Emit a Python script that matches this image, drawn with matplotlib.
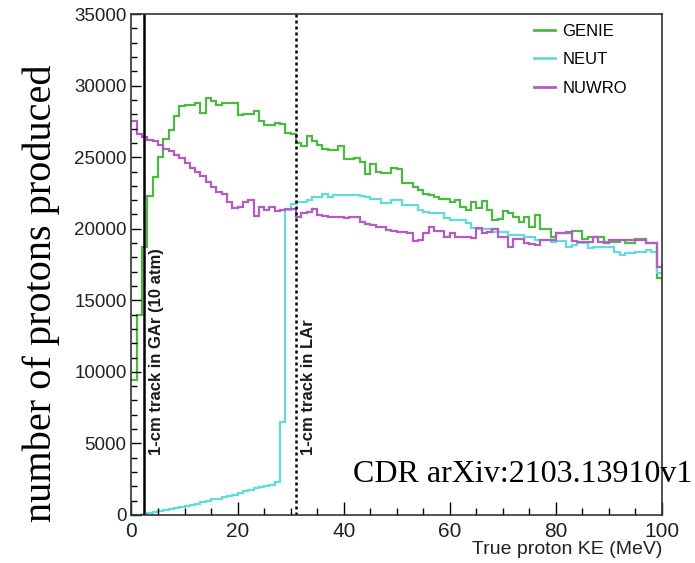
import matplotlib
matplotlib.use("Agg")
import matplotlib.pyplot as plt
from matplotlib.ticker import MultipleLocator
from matplotlib.lines import Line2D
import numpy as np

# bin edges (MeV) and per-bin counts
edges = np.arange(0, 101, 1)

genie = [9400, 14000, 18700, 22300, 23600, 25000, 26300, 26900, 27900, 28600,
         28650, 28650, 28800, 28100, 29150, 28900, 28650, 28800, 28800, 28800,
         27950, 28050, 28050, 28250, 27500, 27250, 27250, 27400, 27350, 26700,
         26650, 26000, 25750, 26450, 26100, 25850, 25550, 25500, 25500, 25750,
         24900, 24850, 24950, 24650, 23800, 24550, 24000, 23900, 23900, 24250,
         24200, 23200, 23200, 22950, 22700, 22400, 22350, 22250, 22100, 22050,
         21900, 22000, 21550, 21300, 21900, 21450, 21950, 21300, 20600, 20650,
         21250, 21100, 20850, 20500, 20800, 20150, 20950, 20000, 19950, 19450,
         19700, 19700, 19700, 19850, 19850, 19250, 19450, 19450, 19450, 19100,
         19100, 19100, 19200, 19000, 19000, 19250, 19250, 19000, 19000, 16550]

neut = [0, 30, 80, 130, 180, 250, 320, 400, 480, 560,
        640, 720, 800, 880, 960, 1100, 1150, 1250, 1350, 1400,
        1550, 1700, 1750, 1900, 1950, 2050, 2100, 2300, 6500, 21300,
        21700, 21900, 21900, 22000, 22250, 22250, 22400, 22200, 22350, 22350,
        22350, 22350, 22350, 22300, 22200, 22050, 22050, 21800, 21800, 22000,
        22000, 21650, 21650, 21650, 21300, 21200, 21100, 21100, 21100, 20750,
        20600, 20600, 20600, 20400, 20050, 19950, 19950, 19950, 19800, 19800,
        19800, 19550, 19550, 19550, 19450, 19400, 19200, 19200, 19200, 19050,
        19150, 19150, 18750, 18850, 19000, 19000, 18650, 18700, 18700, 18750,
        18750, 18400, 18200, 18300, 18300, 18350, 18350, 18500, 18400, 16900]

nuwro = [27550, 26650, 26400, 26200, 26100, 25850, 25600, 25400, 25150, 24950,
         24600, 24250, 24000, 23700, 23300, 22950, 22600, 22450, 21900, 21450,
         21500, 21900, 22000, 20900, 21550, 21300, 21500, 21250, 21300, 21350,
         21350, 20800, 21100, 21200, 21350, 20950, 20900, 20850, 20850, 20800,
         20750, 20850, 20850, 20500, 20300, 20250, 20150, 20100, 19900, 19850,
         19800, 19750, 19700, 19150, 19200, 19700, 20100, 19850, 19850, 19450,
         19700, 19450, 19450, 19450, 19350, 20050, 19700, 19750, 19950, 19450,
         19450, 18750, 19300, 19300, 19000, 18950, 18850, 19200, 19200, 19200,
         19700, 19700, 19800, 19150, 19100, 19100, 19050, 19450, 19050, 19000,
         19200, 19200, 19200, 19200, 19200, 19200, 19200, 19000, 19000, 17350]

labels = ["GENIE", "NEUT", "NUWRO"]
colors = ["#4fb845", "#62dbdd", "#b35cc2"]

gar_cut = 2.4    # 1-cm track in GAr (10 atm)
lar_cut = 31.0   # 1-cm track in LAr

sans = ["Liberation Sans", "DejaVu Sans"]
serif = ["Liberation Serif", "DejaVu Serif"]

fig = plt.figure(figsize=(6.95, 5.63), dpi=100)
ax = fig.add_axes([0.1892, 0.0853, 0.7633, 0.8897])

for vals, lab, col in zip([genie, neut, nuwro], labels, colors):
    ax.stairs(vals, edges, baseline=None, color=col, lw=1.6, label=lab)

ax.axvline(gar_cut, color="black", lw=1.8)
ax.axvline(lar_cut, color="black", lw=1.8, linestyle=(0, (1.2, 1.2)))

ax.text(gar_cut + 2.4, 4200, "1-cm track in GAr (10 atm)", rotation=90,
        ha="center", va="bottom", fontsize=12, fontweight="bold",
        family=sans, color="#1a1a1a")
ax.text(lar_cut + 2.3, 4200, "1-cm track in LAr", rotation=90,
        ha="center", va="bottom", fontsize=12, fontweight="bold",
        family=sans, color="#1a1a1a")

ax.set_xlim(0, 100)
ax.set_ylim(0, 35000)
ax.xaxis.set_major_locator(MultipleLocator(20))
ax.xaxis.set_minor_locator(MultipleLocator(5))
ax.yaxis.set_major_locator(MultipleLocator(5000))
ax.yaxis.set_minor_locator(MultipleLocator(1000))
ax.tick_params(axis="x", which="major", direction="in", length=9.5, width=1,
               pad=5, labelsize=15, top=False)
ax.tick_params(axis="x", which="minor", direction="in", length=5, width=1, top=False)
ax.tick_params(axis="y", which="major", direction="in", length=7.5, width=1,
               pad=3.5, labelsize=13.5, right=False)
ax.tick_params(axis="y", which="minor", direction="in", length=4.5, width=1, right=False)
for lab in ax.get_xticklabels() + ax.get_yticklabels():
    lab.set_family(sans)
    lab.set_color("#222222")
for sp in ax.spines.values():
    sp.set_color("#333333")
    sp.set_linewidth(1.2)

ax.set_xlabel("True proton KE (MeV)", loc="right", fontsize=14, family=sans,
              color="#222222", labelpad=0)

handles = [Line2D([], [], color=c, lw=2) for c in colors]
fig.legend(handles, labels, loc="upper left", bbox_to_anchor=(534 / 695, 1 - 24 / 563),
           frameon=False, prop={"family": sans, "size": 12}, handlelength=1.25,
           handletextpad=0.45, labelspacing=0.8, borderpad=0, borderaxespad=0)

fig.text(0.06, 1 - 293 / 563, "number of protons produced", rotation=90, ha="center",
         va="center", fontsize=29, family=serif)
fig.text(353 / 695, 1 - 482 / 563, "CDR arXiv:2103.13910v1", ha="left",
         va="baseline", fontsize=23, family=serif)

fig.savefig("out.png", dpi=100)
